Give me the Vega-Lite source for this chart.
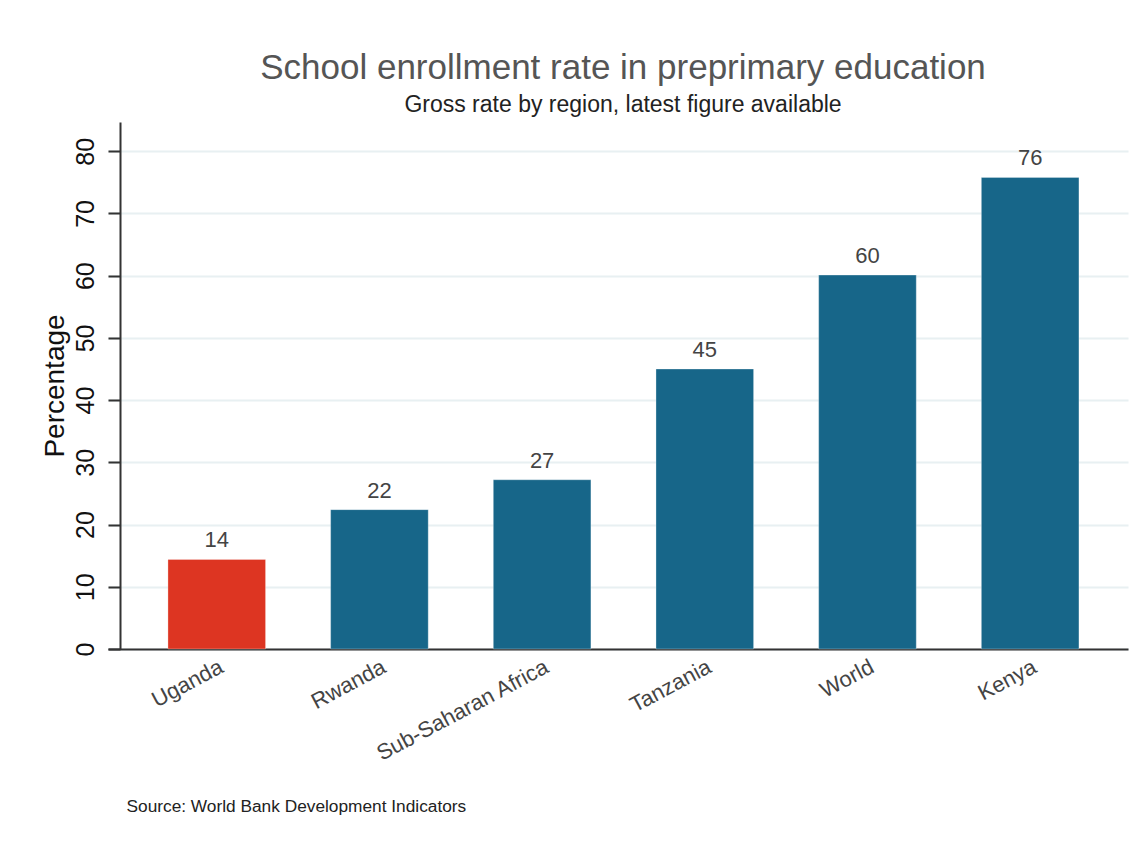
{
  "$schema": "https://vega.github.io/schema/vega-lite/v6.json",
  "width": 1020,
  "height": 527,
  "autosize": {"type": "none"},
  "padding": {"left": 108, "top": 122, "right": 15, "bottom": 195},
  "background": "white",
  "config": {
    "font": "Liberation Sans",
    "view": {"stroke": null}
  },
  "title": {
    "text": "School enrollment rate in preprimary education",
    "subtitle": "Gross rate by region, latest figure available",
    "anchor": "middle",
    "dx": 5,
    "fontSize": 35,
    "fontWeight": "normal",
    "color": "#555555",
    "subtitleFontSize": 23,
    "subtitleColor": "#222222",
    "subtitlePadding": 8,
    "offset": 5
  },
  "data": {
    "values": [
      {"region": "Uganda", "value": 14.4, "highlight": "Uganda"},
      {"region": "Rwanda", "value": 22.4, "highlight": "Other"},
      {"region": "Sub-Saharan Africa", "value": 27.2, "highlight": "Other"},
      {"region": "Tanzania", "value": 45.0, "highlight": "Other"},
      {"region": "World", "value": 60.1, "highlight": "Other"},
      {"region": "Kenya", "value": 75.8, "highlight": "Other"}
    ]
  },
  "encoding": {
    "x": {
      "field": "region",
      "type": "nominal",
      "sort": null,
      "scale": {"paddingInner": 0.4, "paddingOuter": 0.335, "align": 0.55},
      "axis": {
        "title": "Source: World Bank Development Indicators",
        "titleFontSize": 17.3,
        "titleFontWeight": "normal",
        "titleColor": "#222222",
        "titleAlign": "left",
        "titleBaseline": "alphabetic",
        "titleX": 18,
        "titleY": 162,
        "labelAngle": -28,
        "labelAlign": "right",
        "labelBaseline": "top",
        "labelFontSize": 22,
        "labelColor": "#444444",
        "labelPadding": 7,
        "labelDx": -8,
        "labelLimit": 0,
        "ticks": false,
        "domainColor": "#333333",
        "domainWidth": 2,
        "grid": false
      }
    },
    "y": {
      "field": "value",
      "type": "quantitative",
      "scale": {"domain": [0, 84.7], "nice": false, "zero": true},
      "axis": {
        "title": "Percentage",
        "titleFontSize": 28,
        "titleFontWeight": "normal",
        "titleColor": "#111111",
        "titleAngle": 270,
        "titleBaseline": "alphabetic",
        "titleAlign": "center",
        "titleX": -57,
        "titleY": 263.5,
        "values": [0, 10, 20, 30, 40, 50, 60, 70, 80],
        "offset": -12,
        "labelAngle": 270,
        "labelAlign": "center",
        "labelBaseline": "alphabetic",
        "labelFontSize": 25,
        "labelColor": "#111111",
        "labelPadding": 15,
        "tickSize": 12,
        "tickWidth": 2,
        "tickColor": "#333333",
        "domainColor": "#333333",
        "domainWidth": 2,
        "gridColor": "#e8f0f2",
        "gridWidth": 2
      }
    }
  },
  "layer": [
    {
      "mark": {"type": "bar", "stroke": "#ffffff", "strokeOpacity": 0.3, "strokeWidth": 1},
      "encoding": {
        "color": {
          "field": "highlight",
          "type": "nominal",
          "scale": {"domain": ["Uganda", "Other"], "range": ["#dd3522", "#176689"]},
          "legend": null
        }
      }
    },
    {
      "mark": {"type": "text", "baseline": "alphabetic", "dy": -12, "fontSize": 22, "color": "#444444"},
      "encoding": {
        "text": {"field": "value", "type": "quantitative", "format": ".0f"}
      }
    }
  ]
}
